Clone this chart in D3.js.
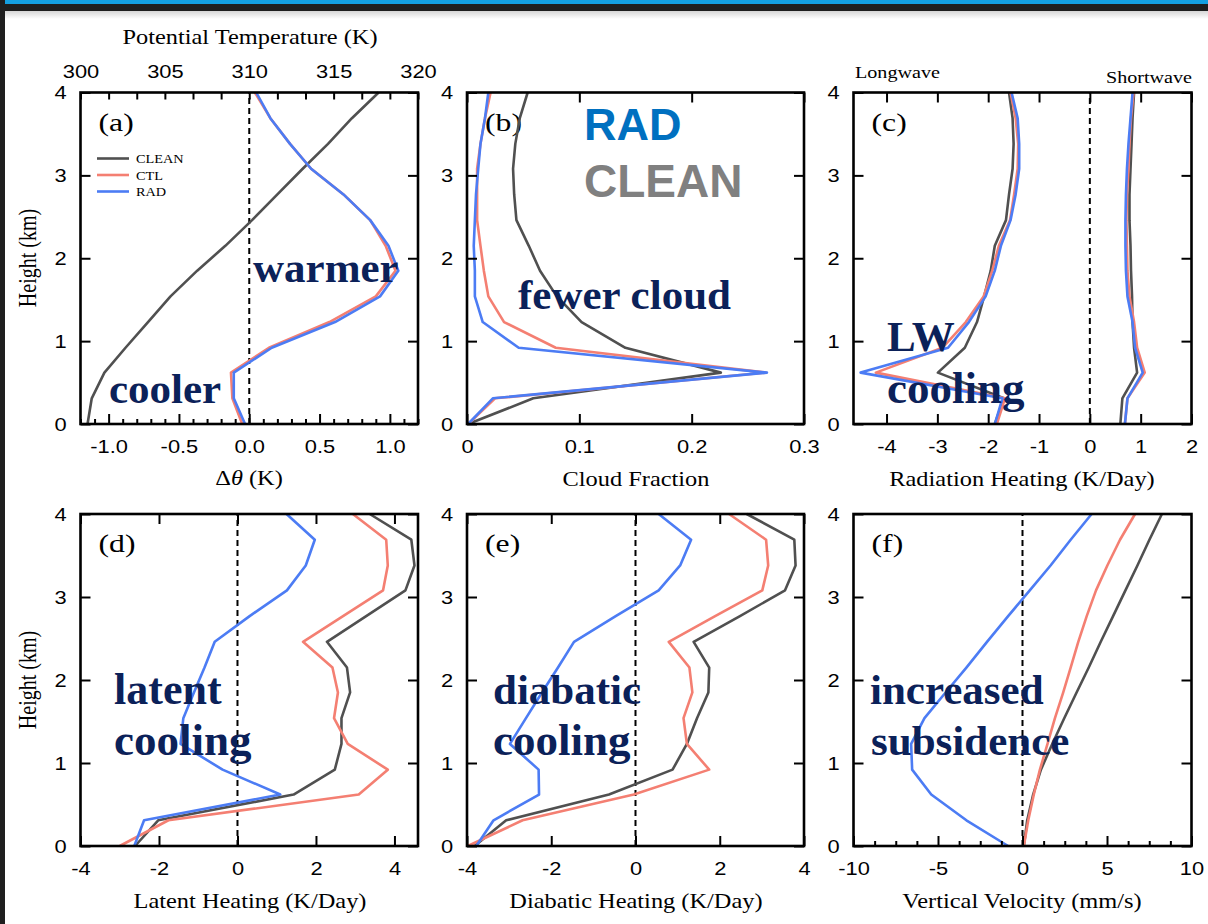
<!DOCTYPE html>
<html>
<head>
<meta charset="utf-8">
<script src="https://cdn.jsdelivr.net/npm/d3@7"></script>
<style>
  html, body { margin: 0; padding: 0; background: #fff; }
  svg { display: block; }
</style>
</head>
<body>
<svg id="fig" width="1208" height="924"></svg>
<script>
// ---- Vertical levels (km) shared by every profile ----
const heights = [0, 0.31, 0.62, 0.92, 1.23, 1.54, 1.85, 2.15, 2.46, 2.77, 3.08, 3.38, 3.69, 4.0];

// (a) potential temperature anomaly (K)
const dthetaClean = [-1.15, -1.12, -1.03, -0.88, -0.72, -0.56, -0.37, -0.17, 0.02, 0.20, 0.38, 0.56, 0.73, 0.92];
const dthetaCtl   = [-0.05, -0.12, -0.13, 0.14, 0.57, 0.90, 1.04, 0.97, 0.86, 0.67, 0.44, 0.29, 0.15, 0.04];
const dthetaRad   = [-0.03, -0.11, -0.11, 0.16, 0.61, 0.93, 1.06, 0.99, 0.86, 0.67, 0.44, 0.29, 0.15, 0.05];

// (b) cloud fraction
const cloudClean = [0.001, 0.059, 0.226, 0.141, 0.102, 0.080, 0.065, 0.055, 0.044, 0.042, 0.041, 0.043, 0.047, 0.054];
const cloudCtl   = [0.001, 0.025, 0.266, 0.079, 0.033, 0.019, 0.015, 0.012, 0.009, 0.009, 0.009, 0.012, 0.016, 0.021];
const cloudRad   = [0.001, 0.023, 0.267, 0.046, 0.014, 0.007, 0.007, 0.006, 0.007, 0.008, 0.010, 0.012, 0.016, 0.019];

// (c) radiative heating (K/day): longwave and shortwave
const lwClean = [-1.87, -1.69, -2.99, -2.46, -2.22, -2.08, -1.95, -1.87, -1.65, -1.59, -1.52, -1.50, -1.52, -1.59];
const lwCtl   = [-1.83, -1.67, -4.21, -2.90, -2.44, -2.09, -1.92, -1.79, -1.57, -1.49, -1.42, -1.41, -1.46, -1.56];
const lwRad   = [-1.87, -1.72, -4.51, -2.79, -2.38, -2.05, -1.87, -1.75, -1.56, -1.46, -1.39, -1.39, -1.42, -1.54];
const swClean = [0.60, 0.64, 0.93, 0.87, 0.84, 0.83, 0.81, 0.80, 0.78, 0.78, 0.80, 0.82, 0.84, 0.87];
const swCtl   = [0.69, 0.74, 1.08, 0.93, 0.87, 0.78, 0.74, 0.73, 0.72, 0.73, 0.76, 0.78, 0.81, 0.86];
const swRad   = [0.69, 0.74, 1.04, 0.89, 0.84, 0.74, 0.71, 0.70, 0.70, 0.71, 0.73, 0.76, 0.80, 0.84];

// (d) latent heating (K/day)
const latentClean = [-2.61, -2.02, 1.43, 2.48, 2.65, 2.65, 2.87, 2.79, 2.28, 3.28, 4.28, 4.51, 4.43, 3.37];
const latentCtl   = [-3.00, -1.76, 3.09, 3.83, 2.81, 2.46, 2.56, 2.42, 1.67, 2.69, 3.71, 3.83, 3.79, 2.94];
const latentRad   = [-2.63, -2.38, 1.09, -0.38, -1.45, -1.38, -1.11, -0.84, -0.58, 0.31, 1.26, 1.74, 1.97, 1.25];

// (e) diabatic heating (K/day)
const diabaticClean = [-3.82, -3.07, -0.63, 0.88, 1.22, 1.46, 1.73, 1.75, 1.38, 2.48, 3.55, 3.80, 3.77, 2.64];
const diabaticCtl   = [-3.98, -2.68, -0.04, 1.75, 1.22, 1.14, 1.35, 1.28, 0.79, 1.89, 3.01, 3.15, 3.10, 2.22];
const diabaticRad   = [-3.78, -3.37, -2.29, -2.30, -2.98, -2.60, -2.22, -1.84, -1.46, -0.47, 0.55, 1.06, 1.32, 0.55];

// (f) vertical velocity (mm/s)
const wClean = [0.08, 0.28, 0.63, 1.09, 1.76, 2.47, 3.20, 3.92, 4.63, 5.36, 6.09, 6.80, 7.51, 8.25];
const wCtl   = [0.08, 0.34, 0.67, 1.03, 1.48, 1.92, 2.41, 2.85, 3.30, 3.80, 4.35, 5.02, 5.77, 6.66];
const wRad   = [-0.85, -3.32, -5.40, -6.53, -6.59, -5.80, -4.55, -3.32, -2.10, -0.85, 0.43, 1.66, 2.85, 4.09];

// ---- Experiment names and tick labels ----
const experiments = ["CLEAN", "CTL", "RAD"];
const heightTicks = [0, 1, 2, 3, 4];
const dthetaTicks = [-1.0, -0.5, 0.0, 0.5, 1.0];
const thetaTicks = [300, 305, 310, 315, 320];
const cloudTicks = [0, 0.1, 0.2, 0.3];
const radTicks = [-4, -3, -2, -1, 0, 1, 2];
const heatTicks = [-4, -2, 0, 2, 4];
const wTicks = [-10, -5, 0, 5, 10];

// ---- Styles ----
const COLORS = { CLEAN: "#505050", CTL: "#f47f72", RAD: "#4c7cf4" };
const SANS = "'Liberation Sans', Arial, Helvetica, sans-serif";
const SERIF = "'Liberation Serif', 'Times New Roman', serif";
const INK = "#0b2159";
const SX = 1.22;       // horizontal stretch of the plotting-package lettering
const TICK_SX = 1.25;

const svg = d3.select("#fig");

// Slide chrome: header band and left edge
const defs = svg.append("defs");
const grad = defs.append("linearGradient").attr("id", "shade").attr("x1", 0).attr("y1", 0).attr("x2", 0).attr("y2", 1);
grad.append("stop").attr("offset", 0).attr("stop-color", "#000").attr("stop-opacity", 0.16);
grad.append("stop").attr("offset", 1).attr("stop-color", "#000").attr("stop-opacity", 0);
svg.append("rect").attr("width", 1208).attr("height", 924).attr("fill", "#fff");
svg.append("rect").attr("x", 0).attr("y", 11).attr("width", 1208).attr("height", 8).attr("fill", "url(#shade)");
svg.append("rect").attr("x", 0).attr("y", 0).attr("width", 1208).attr("height", 11).attr("fill", "#1f1f1f");
svg.append("rect").attr("x", 0).attr("y", 0).attr("width", 1208).attr("height", 4).attr("fill", "#14a0e2");
svg.append("rect").attr("x", 0).attr("y", 0).attr("width", 5).attr("height", 924).attr("fill", "#1f1f1f");

function label(parent, x, y, str, o) {
  const opt = Object.assign({ size: 20, family: SERIF, anchor: "middle", sx: 1, weight: "normal", fill: "#000", rotate: 0 }, o || {});
  return parent.append("text")
    .attr("transform", `translate(${x},${y}) scale(${opt.sx},1) rotate(${opt.rotate})`)
    .attr("text-anchor", opt.anchor)
    .attr("font-family", opt.family)
    .attr("font-size", opt.size)
    .attr("font-weight", opt.weight)
    .attr("fill", opt.fill)
    .text(str);
}

const rows = { top: [92.5, 424], bottom: [514, 846] };
const cols = [[80.5, 418], [467, 804], [853.5, 1191.5]];
const fmtMinus = f => d => d3.format(f)(d).replace("\u2212", "-");

function styleAxis(sel, showText) {
  sel.select(".domain").remove();
  sel.selectAll(".tick line").attr("stroke", "#000").attr("stroke-width", 2);
  if (showText) {
    sel.selectAll(".tick text")
      .attr("font-family", SANS).attr("font-size", 17.5).attr("fill", "#000")
      .attr("transform", `scale(${TICK_SX},1)`);
  } else {
    sel.selectAll(".tick text").remove();
  }
}

function makePanel(cfg) {
  const [x0, x1] = cols[cfg.col];
  const [yTop, yBot] = rows[cfg.row];
  const x = d3.scaleLinear().domain(cfg.domain).range([x0, x1]);
  const y = d3.scaleLinear().domain([0, 4]).range([yBot, yTop]);
  const g = svg.append("g");

  // Panel letter sits beneath the curves
  label(g, x0 + 18, yTop + 38, cfg.letter, { size: 26, anchor: "start", sx: SX });

  if (cfg.zero) {
    g.append("line")
      .attr("x1", x(0)).attr("x2", x(0)).attr("y1", y(0)).attr("y2", y(4))
      .attr("stroke", "#000").attr("stroke-width", 2).attr("stroke-dasharray", "6,4");
  }

  const line = d3.line().x(d => x(d[0])).y(d => y(d[1]));
  cfg.groups.forEach(grp => {
    experiments.forEach(name => {
      g.append("path")
        .datum(grp[name].map((v, i) => [v, heights[i]]))
        .attr("d", line)
        .attr("fill", "none")
        .attr("stroke", COLORS[name])
        .attr("stroke-width", 2.6)
        .attr("stroke-linejoin", "round");
    });
  });

  // Ticks (pointing inward)
  const bottom = g.append("g").attr("transform", `translate(0,${yBot})`)
    .call(d3.axisBottom(x).tickValues(cfg.ticks).tickFormat(cfg.fmt)
      .tickSizeInner(-10).tickSizeOuter(0).tickPadding(17));
  styleAxis(bottom, true);
  if (cfg.minor) {
    const mb = g.append("g").attr("transform", `translate(0,${yBot})`)
      .call(d3.axisBottom(x).tickValues(cfg.minor).tickSizeInner(-5).tickSizeOuter(0));
    styleAxis(mb, false);
  }
  if (cfg.topTicks) {
    const top = g.append("g").attr("transform", `translate(0,${yTop})`)
      .call(d3.axisTop(x).tickValues(cfg.topTicks).tickSizeInner(-cfg.topLen).tickSizeOuter(0));
    styleAxis(top, false);
  }
  const left = g.append("g").attr("transform", `translate(${x0},0)`)
    .call(d3.axisLeft(y).tickValues(heightTicks).tickFormat(d3.format("d"))
      .tickSizeInner(-10).tickSizeOuter(0).tickPadding(11));
  styleAxis(left, true);
  left.selectAll(".tick text").attr("dy", "0.36em");
  const right = g.append("g").attr("transform", `translate(${x1},0)`)
    .call(d3.axisRight(y).tickValues(heightTicks).tickSizeInner(-10).tickSizeOuter(0));
  styleAxis(right, false);

  // Frame
  g.append("rect")
    .attr("x", x0).attr("y", yTop).attr("width", x1 - x0).attr("height", yBot - yTop)
    .attr("fill", "none").attr("stroke", "#000").attr("stroke-width", 2.6);

  return { g, x, y, x0, x1, yTop, yBot };
}

// ---------------- (a) ----------------
const pa = makePanel({
  col: 0, row: "top", letter: "(a)", domain: [-1.2, 1.2], zero: true,
  ticks: dthetaTicks, fmt: fmtMinus(".1f"),
  minor: d3.range(-12, 13).map(k => k / 10).filter(v => Math.abs(v * 2 - Math.round(v * 2)) > 1e-6),
  topTicks: d3.range(-6, 7).map(k => k / 5), topLen: 7,
  groups: [{ CLEAN: dthetaClean, CTL: dthetaCtl, RAD: dthetaRad }]
});
// potential temperature labels along the top edge
const theta = d3.scaleLinear().domain([300, 320]).range([pa.x0, pa.x1]);
const topLab = pa.g.append("g").attr("transform", `translate(0,${pa.yTop})`)
  .call(d3.axisTop(theta).tickValues(thetaTicks).tickFormat(d3.format("d")).tickSize(0).tickPadding(15));
styleAxis(topLab, true);
topLab.selectAll(".tick line").remove();
label(svg, 250, 44, "Potential Temperature (K)", { size: 20, sx: SX });

// legend
const legend = pa.g.append("g");
experiments.forEach((name, i) => {
  const ly = 158.5 + i * 16.5;
  legend.append("line").attr("x1", 97).attr("x2", 129).attr("y1", ly).attr("y2", ly)
    .attr("stroke", COLORS[name]).attr("stroke-width", 2.6);
  label(legend, 136, ly + 4.5, name, { size: 13, anchor: "start", sx: 1.1 });
});

// x title with italic theta
const dt = svg.append("text")
  .attr("transform", `translate(249,485) scale(${SX},1)`)
  .attr("text-anchor", "middle").attr("font-family", SERIF).attr("font-size", 20);
dt.append("tspan").text("\u0394");
dt.append("tspan").attr("font-style", "italic").text("\u03b8");
dt.append("tspan").text(" (K)");

// ---------------- (b) ----------------
makePanel({
  col: 1, row: "top", letter: "(b)", domain: [0, 0.3], zero: false,
  ticks: cloudTicks, fmt: d => d === 0 ? "0" : d3.format(".1f")(d),
  topTicks: cloudTicks, topLen: 10,
  groups: [{ CLEAN: cloudClean, CTL: cloudCtl, RAD: cloudRad }]
});
label(svg, 636, 486, "Cloud Fraction", { size: 20, sx: SX });

// ---------------- (c) ----------------
makePanel({
  col: 2, row: "top", letter: "(c)", domain: [-4.65, 2.0], zero: true,
  ticks: radTicks, fmt: fmtMinus("d"),
  topTicks: radTicks, topLen: 10,
  groups: [
    { CLEAN: lwClean, CTL: lwCtl, RAD: lwRad },
    { CLEAN: swClean, CTL: swCtl, RAD: swRad }
  ]
});
label(svg, 1022, 486, "Radiation Heating (K/Day)", { size: 20, sx: SX });
label(svg, 855, 78, "Longwave", { size: 16.5, anchor: "start", sx: SX });
label(svg, 1192, 83, "Shortwave", { size: 16.5, anchor: "end", sx: SX });

// ---------------- (d) ----------------
makePanel({
  col: 0, row: "bottom", letter: "(d)", domain: [-4, 4.6], zero: true,
  ticks: heatTicks, fmt: fmtMinus("d"),
  topTicks: heatTicks, topLen: 10,
  groups: [{ CLEAN: latentClean, CTL: latentCtl, RAD: latentRad }]
});
label(svg, 250, 908, "Latent Heating (K/Day)", { size: 20, sx: SX });

// ---------------- (e) ----------------
makePanel({
  col: 1, row: "bottom", letter: "(e)", domain: [-4, 4], zero: true,
  ticks: heatTicks, fmt: fmtMinus("d"),
  topTicks: heatTicks, topLen: 10,
  groups: [{ CLEAN: diabaticClean, CTL: diabaticCtl, RAD: diabaticRad }]
});
label(svg, 636, 908, "Diabatic Heating (K/Day)", { size: 20, sx: SX });

// ---------------- (f) ----------------
makePanel({
  col: 2, row: "bottom", letter: "(f)", domain: [-10, 10], zero: true,
  ticks: wTicks, fmt: fmtMinus("d"),
  minor: d3.range(-8, 9).map(k => k * 1.25).filter(v => Math.abs(v % 5) > 1e-6),
  groups: [{ CLEAN: wClean, CTL: wCtl, RAD: wRad }]
});
label(svg, 1022, 908, "Vertical Velocity (mm/s)", { size: 20, sx: SX });

// y-axis titles
label(svg, 36, 258, "Height (km)", { size: 20, sx: SX, rotate: -90 });
label(svg, 36, 680, "Height (km)", { size: 20, sx: SX, rotate: -90 });

// ---------------- Annotations ----------------
const ann = svg.append("g");
const bold = (x, y, s, size) => label(ann, x, y, s, { size: size || 43, weight: "bold", anchor: "start", fill: INK });
bold(253, 282, "warmer");
bold(109, 403, "cooler");
bold(518, 309, "fewer cloud");
bold(887, 351, "LW");
bold(887, 403, "cooling", 45);
bold(114, 704, "latent", 44);
bold(114, 755, "cooling", 45);
bold(493, 704, "diabatic");
bold(493, 755, "cooling", 45);
bold(870, 704, "increased");
bold(871, 755, "subsidence");
label(ann, 584, 140, "RAD", { size: 45, family: SANS, weight: "bold", anchor: "start", fill: "#0070c0" });
label(ann, 584, 197, "CLEAN", { size: 46, family: SANS, weight: "bold", anchor: "start", fill: "#808080" });
</script>
</body>
</html>
